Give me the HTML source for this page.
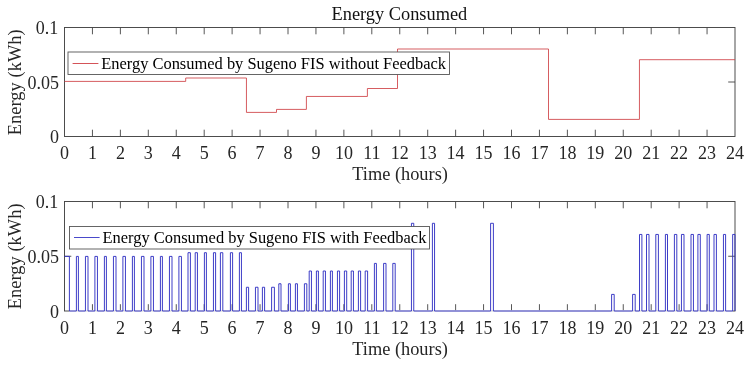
<!DOCTYPE html>
<html>
<head>
<meta charset="utf-8">
<title>Energy Consumed</title>
<style>
html,body{margin:0;padding:0;background:#fff;}
body{width:750px;height:367px;overflow:hidden;}
svg{display:block;will-change:transform;}
text{font-family:"Liberation Serif",serif;font-size:18px;fill:#262626;}
.lb{font-size:18.35px;}
.leg{font-size:16.45px;fill:#000;}
</style>
</head>
<body>
<svg width="750" height="367" viewBox="0 0 750 367">
<rect x="0" y="0" width="750" height="367" fill="#ffffff"/>

<!-- ===== top subplot: without feedback ===== -->
<path d="M92.44 136.50v-6.80M92.44 27.50v6.80M120.38 136.50v-6.80M120.38 27.50v6.80M148.31 136.50v-6.80M148.31 27.50v6.80M176.25 136.50v-6.80M176.25 27.50v6.80M204.19 136.50v-6.80M204.19 27.50v6.80M232.12 136.50v-6.80M232.12 27.50v6.80M260.06 136.50v-6.80M260.06 27.50v6.80M288.00 136.50v-6.80M288.00 27.50v6.80M315.94 136.50v-6.80M315.94 27.50v6.80M343.88 136.50v-6.80M343.88 27.50v6.80M371.81 136.50v-6.80M371.81 27.50v6.80M399.75 136.50v-6.80M399.75 27.50v6.80M427.69 136.50v-6.80M427.69 27.50v6.80M455.62 136.50v-6.80M455.62 27.50v6.80M483.56 136.50v-6.80M483.56 27.50v6.80M511.50 136.50v-6.80M511.50 27.50v6.80M539.44 136.50v-6.80M539.44 27.50v6.80M567.38 136.50v-6.80M567.38 27.50v6.80M595.31 136.50v-6.80M595.31 27.50v6.80M623.25 136.50v-6.80M623.25 27.50v6.80M651.19 136.50v-6.80M651.19 27.50v6.80M679.12 136.50v-6.80M679.12 27.50v6.80M707.06 136.50v-6.80M707.06 27.50v6.80M735.00 82.00h-6.80" stroke="#444" stroke-width="0.9" fill="none"/>
<rect x="64.50" y="27.50" width="670.50" height="109.00" fill="none" stroke="#444" stroke-width="0.95"/>
<path d="M64.50 81.40 L185.70 81.40 L185.70 78.00 L246.45 78.00 L246.45 112.40 L276.50 112.40 L276.50 109.40 L306.40 109.40 L306.40 96.45 L367.40 96.45 L367.40 88.50 L397.50 88.50 L397.50 49.00 L548.50 49.00 L548.50 119.40 L639.45 119.40 L639.45 59.70 L735.00 59.70" fill="none" stroke="#cf4045" stroke-width="0.85" stroke-linejoin="miter"/>
<text class="lb" x="399.4" y="19.6" text-anchor="middle" style="fill:#111">Energy Consumed</text>
<text x="64.50" y="158.80" text-anchor="middle">0</text>
<text x="92.44" y="158.80" text-anchor="middle">1</text>
<text x="120.38" y="158.80" text-anchor="middle">2</text>
<text x="148.31" y="158.80" text-anchor="middle">3</text>
<text x="176.25" y="158.80" text-anchor="middle">4</text>
<text x="204.19" y="158.80" text-anchor="middle">5</text>
<text x="232.12" y="158.80" text-anchor="middle">6</text>
<text x="260.06" y="158.80" text-anchor="middle">7</text>
<text x="288.00" y="158.80" text-anchor="middle">8</text>
<text x="315.94" y="158.80" text-anchor="middle">9</text>
<text x="343.88" y="158.80" text-anchor="middle">10</text>
<text x="371.81" y="158.80" text-anchor="middle">11</text>
<text x="399.75" y="158.80" text-anchor="middle">12</text>
<text x="427.69" y="158.80" text-anchor="middle">13</text>
<text x="455.62" y="158.80" text-anchor="middle">14</text>
<text x="483.56" y="158.80" text-anchor="middle">15</text>
<text x="511.50" y="158.80" text-anchor="middle">16</text>
<text x="539.44" y="158.80" text-anchor="middle">17</text>
<text x="567.38" y="158.80" text-anchor="middle">18</text>
<text x="595.31" y="158.80" text-anchor="middle">19</text>
<text x="623.25" y="158.80" text-anchor="middle">20</text>
<text x="651.19" y="158.80" text-anchor="middle">21</text>
<text x="679.12" y="158.80" text-anchor="middle">22</text>
<text x="707.06" y="158.80" text-anchor="middle">23</text>
<text x="735.00" y="158.80" text-anchor="middle">24</text>
<text x="58.20" y="34.40" text-anchor="end">0.1</text>
<text x="59.00" y="88.90" text-anchor="end">0.05</text>
<text x="59.00" y="143.40" text-anchor="end">0</text>
<text class="lb" x="400.1" y="180.3" text-anchor="middle">Time (hours)</text>
<text class="lb" transform="translate(20.9,82.3) rotate(-90)" text-anchor="middle" textLength="105.9">Energy (kWh)</text>
<!-- legend 1 -->
<rect x="68" y="52" width="381.5" height="22.5" fill="#fff" stroke="#555" stroke-width="0.9"/>
<path d="M72.6 63.5H98.4" stroke="#cf4045" stroke-width="0.9" fill="none"/>
<text class="leg" x="101.2" y="69.1">Energy Consumed by Sugeno FIS without Feedback</text>

<!-- ===== bottom subplot: with feedback ===== -->
<path d="M92.44 311.00v-6.80M92.44 201.50v6.80M120.38 311.00v-6.80M120.38 201.50v6.80M148.31 311.00v-6.80M148.31 201.50v6.80M176.25 311.00v-6.80M176.25 201.50v6.80M204.19 311.00v-6.80M204.19 201.50v6.80M232.12 311.00v-6.80M232.12 201.50v6.80M260.06 311.00v-6.80M260.06 201.50v6.80M288.00 311.00v-6.80M288.00 201.50v6.80M315.94 311.00v-6.80M315.94 201.50v6.80M343.88 311.00v-6.80M343.88 201.50v6.80M371.81 311.00v-6.80M371.81 201.50v6.80M399.75 311.00v-6.80M399.75 201.50v6.80M427.69 311.00v-6.80M427.69 201.50v6.80M455.62 311.00v-6.80M455.62 201.50v6.80M483.56 311.00v-6.80M483.56 201.50v6.80M511.50 311.00v-6.80M511.50 201.50v6.80M539.44 311.00v-6.80M539.44 201.50v6.80M567.38 311.00v-6.80M567.38 201.50v6.80M595.31 311.00v-6.80M595.31 201.50v6.80M623.25 311.00v-6.80M623.25 201.50v6.80M651.19 311.00v-6.80M651.19 201.50v6.80M679.12 311.00v-6.80M679.12 201.50v6.80M707.06 311.00v-6.80M707.06 201.50v6.80M64.50 256.25h6.80M735.00 256.25h-6.80" stroke="#444" stroke-width="0.9" fill="none"/>
<rect x="64.50" y="201.50" width="670.50" height="109.50" fill="none" stroke="#444" stroke-width="0.95"/>
<path d="M69.4 311.0H732.6" stroke="#fff" stroke-width="1.6" fill="none"/>
<path d="M64.50 256.40 L69.40 256.40 L69.40 311.00 L76.40 311.00 L76.40 256.40 L78.40 256.40 L78.40 311.00 L85.45 311.00 L85.45 256.40 L88.00 256.40 L88.00 311.00 L94.90 311.00 L94.90 256.40 L97.45 256.40 L97.45 311.00 L104.40 311.00 L104.40 256.40 L106.40 256.40 L106.40 311.00 L113.45 311.00 L113.45 256.40 L116.00 256.40 L116.00 311.00 L122.90 311.00 L122.90 256.40 L125.45 256.40 L125.45 311.00 L132.40 311.00 L132.40 256.40 L134.40 256.40 L134.40 311.00 L141.45 311.00 L141.45 256.40 L144.00 256.40 L144.00 311.00 L150.90 311.00 L150.90 256.40 L153.45 256.40 L153.45 311.00 L160.40 311.00 L160.40 256.40 L162.40 256.40 L162.40 311.00 L169.45 311.00 L169.45 256.40 L172.00 256.40 L172.00 311.00 L178.90 311.00 L178.90 256.40 L181.45 256.40 L181.45 311.00 L188.00 311.00 L188.00 252.70 L190.40 252.70 L190.40 311.00 L195.20 311.00 L195.20 252.70 L197.45 252.70 L197.45 311.00 L204.40 311.00 L204.40 252.70 L206.40 252.70 L206.40 311.00 L213.45 311.00 L213.45 252.70 L215.60 252.70 L215.60 311.00 L220.40 311.00 L220.40 252.70 L222.80 252.70 L222.80 311.00 L230.40 311.00 L230.40 252.70 L232.60 252.70 L232.60 311.00 L239.40 311.00 L239.40 252.70 L241.45 252.70 L241.45 311.00 L246.40 311.00 L246.40 287.25 L248.60 287.25 L248.60 311.00 L255.45 311.00 L255.45 287.25 L258.00 287.25 L258.00 311.00 L262.40 311.00 L262.40 287.25 L264.60 287.25 L264.60 311.00 L271.60 311.00 L271.60 287.25 L274.40 287.25 L274.40 311.00 L278.80 311.00 L278.80 283.75 L281.00 283.75 L281.00 311.00 L288.40 311.00 L288.40 283.75 L290.40 283.75 L290.40 311.00 L295.40 311.00 L295.40 283.75 L297.45 283.75 L297.45 311.00 L304.40 311.00 L304.40 283.75 L306.80 283.75 L306.80 311.00 L309.20 311.00 L309.20 271.00 L311.45 271.00 L311.45 311.00 L316.40 311.00 L316.40 271.00 L318.40 271.00 L318.40 311.00 L323.20 311.00 L323.20 271.00 L325.45 271.00 L325.45 311.00 L330.40 311.00 L330.40 271.00 L332.40 271.00 L332.40 311.00 L337.45 311.00 L337.45 271.00 L339.60 271.00 L339.60 311.00 L344.40 311.00 L344.40 271.00 L346.70 271.00 L346.70 311.00 L351.20 311.00 L351.20 271.00 L353.45 271.00 L353.45 311.00 L358.40 311.00 L358.40 271.00 L360.60 271.00 L360.60 311.00 L365.20 311.00 L365.20 271.00 L367.60 271.00 L367.60 311.00 L374.40 311.00 L374.40 263.40 L376.40 263.40 L376.40 311.00 L383.60 311.00 L383.60 263.40 L386.00 263.40 L386.00 311.00 L392.80 311.00 L392.80 263.40 L395.20 263.40 L395.20 311.00 L411.45 311.00 L411.45 223.30 L413.75 223.30 L413.75 311.00 L432.40 311.00 L432.40 223.30 L434.55 223.30 L434.55 311.00 L490.60 311.00 L490.60 223.30 L493.40 223.30 L493.40 311.00 L611.60 311.00 L611.60 294.40 L614.20 294.40 L614.20 311.00 L632.60 311.00 L632.60 294.40 L635.20 294.40 L635.20 311.00 L639.50 311.00 L639.50 234.45 L641.90 234.45 L641.90 311.00 L646.50 311.00 L646.50 234.45 L649.00 234.45 L649.00 311.00 L655.80 311.00 L655.80 234.45 L658.40 234.45 L658.40 311.00 L665.40 311.00 L665.40 234.45 L667.50 234.45 L667.50 311.00 L674.40 311.00 L674.40 234.45 L676.80 234.45 L676.80 311.00 L681.45 311.00 L681.45 234.45 L684.00 234.45 L684.00 311.00 L691.00 311.00 L691.00 234.45 L693.45 234.45 L693.45 311.00 L697.90 311.00 L697.90 234.45 L700.30 234.45 L700.30 311.00 L707.10 311.00 L707.10 234.45 L709.30 234.45 L709.30 311.00 L714.00 311.00 L714.00 234.45 L716.40 234.45 L716.40 311.00 L723.45 311.00 L723.45 234.45 L725.60 234.45 L725.60 311.00 L732.65 311.00 L732.65 234.45 L735.00 234.45 L735.00 311.00" fill="none" stroke="#3434c4" stroke-width="0.95" stroke-linejoin="miter"/>
<text x="64.50" y="333.90" text-anchor="middle">0</text>
<text x="92.44" y="333.90" text-anchor="middle">1</text>
<text x="120.38" y="333.90" text-anchor="middle">2</text>
<text x="148.31" y="333.90" text-anchor="middle">3</text>
<text x="176.25" y="333.90" text-anchor="middle">4</text>
<text x="204.19" y="333.90" text-anchor="middle">5</text>
<text x="232.12" y="333.90" text-anchor="middle">6</text>
<text x="260.06" y="333.90" text-anchor="middle">7</text>
<text x="288.00" y="333.90" text-anchor="middle">8</text>
<text x="315.94" y="333.90" text-anchor="middle">9</text>
<text x="343.88" y="333.90" text-anchor="middle">10</text>
<text x="371.81" y="333.90" text-anchor="middle">11</text>
<text x="399.75" y="333.90" text-anchor="middle">12</text>
<text x="427.69" y="333.90" text-anchor="middle">13</text>
<text x="455.62" y="333.90" text-anchor="middle">14</text>
<text x="483.56" y="333.90" text-anchor="middle">15</text>
<text x="511.50" y="333.90" text-anchor="middle">16</text>
<text x="539.44" y="333.90" text-anchor="middle">17</text>
<text x="567.38" y="333.90" text-anchor="middle">18</text>
<text x="595.31" y="333.90" text-anchor="middle">19</text>
<text x="623.25" y="333.90" text-anchor="middle">20</text>
<text x="651.19" y="333.90" text-anchor="middle">21</text>
<text x="679.12" y="333.90" text-anchor="middle">22</text>
<text x="707.06" y="333.90" text-anchor="middle">23</text>
<text x="735.00" y="333.90" text-anchor="middle">24</text>
<text x="58.20" y="208.40" text-anchor="end">0.1</text>
<text x="59.00" y="263.15" text-anchor="end">0.05</text>
<text x="59.00" y="317.90" text-anchor="end">0</text>
<text class="lb" x="400.1" y="355.4" text-anchor="middle">Time (hours)</text>
<text class="lb" transform="translate(20.9,256.4) rotate(-90)" text-anchor="middle" textLength="105.9">Energy (kWh)</text>
<!-- legend 2 -->
<rect x="69.5" y="226.5" width="360" height="22.5" fill="#fff" stroke="#555" stroke-width="0.9"/>
<path d="M74 237.5H99.6" stroke="#3434c4" stroke-width="0.9" fill="none"/>
<text class="leg" x="102.5" y="243.3">Energy Consumed by Sugeno FIS with Feedback</text>
</svg>
</body>
</html>
